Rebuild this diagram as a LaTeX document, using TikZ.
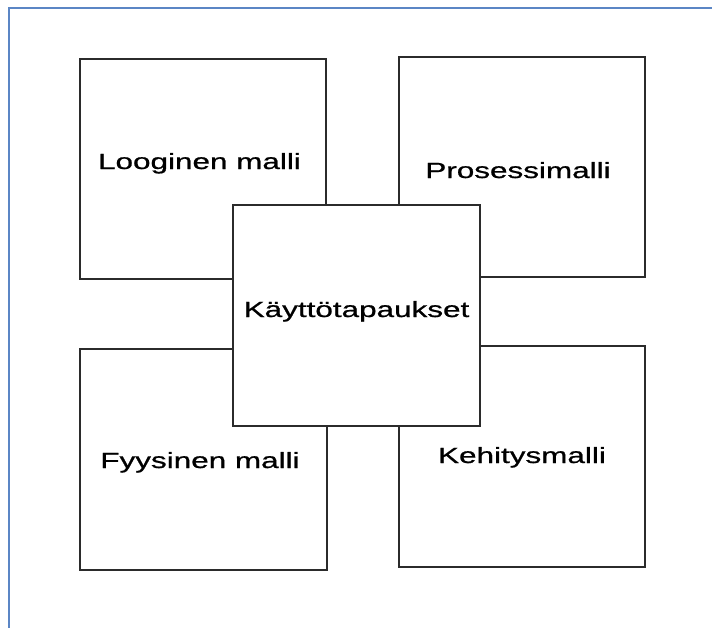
\documentclass[tikz,border=0pt]{standalone}
\usepackage{fontspec}
\setmainfont{Liberation Sans}
\newfontfamily\lblfont{Liberation Sans}[UprightFeatures={FakeBold=0.7}]
\definecolor{frameblue}{HTML}{5B86C5}
\definecolor{boxline}{HTML}{2B2B2B}
\tikzset{
  box/.style={draw=boxline, line width=1.8pt, fill=white, rectangle, inner sep=0pt},
  lbl/.style={anchor=base, inner sep=0pt, font=\lblfont\fontsize{22}{26}\selectfont}
}
\newcommand{\wide}[1]{\scalebox{1.43}[1]{#1}}
\begin{document}
\begin{tikzpicture}[x=1pt, y=-1pt]
  \clip (0,0) rectangle (712,627);
  \fill[white] (0,0) rectangle (712,627);
  \coordinate (fa) at (9,640);
  \coordinate (fb) at (9,8);
  \coordinate (fc) at (720,8);
  \draw[frameblue, line width=2.6pt] (fa) -- (fb) -- (fc);
  % outer boxes
  \node[box, minimum width=246pt, minimum height=220pt] (tl) at (203,169) {};
  \node[box, minimum width=246pt, minimum height=220pt] (tr) at (522,167) {};
  \node[box, minimum width=247pt, minimum height=221pt] (bl) at (203.5,459.5) {};
  \node[box, minimum width=246pt, minimum height=221pt] (br) at (522,456.5) {};
  % center box
  \node[box, minimum width=247pt, minimum height=221pt] (c) at (356.5,315.5) {};
  % labels
  \node[lbl] (tlt) at (199.5,169) {\wide{Looginen malli}};
  \node[lbl] (trt) at (518,178) {\wide{Prosessimalli}};
  \node[lbl] (ct) at (356.5,317) {\wide{Käyttötapaukset}};
  \node[lbl] (blt) at (200,468) {\wide{Fyysinen malli}};
  \node[lbl] (brt) at (522,463) {\wide{Kehitysmalli}};
\end{tikzpicture}
\end{document}
